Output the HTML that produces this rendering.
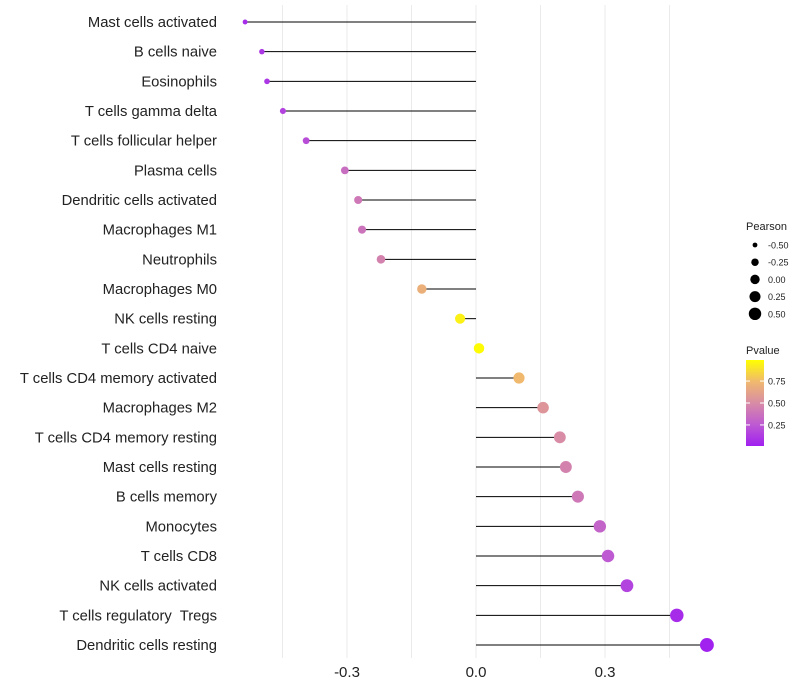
<!DOCTYPE html>
<html><head><meta charset="utf-8"><style>
body{margin:0;background:#fff;font-family:"Liberation Sans",sans-serif;}
svg{display:block}
text{white-space:pre}
</style></head><body>
<svg id="c" width="800" height="700"></svg>
<script>
const categories=["Mast cells activated","B cells naive","Eosinophils","T cells gamma delta","T cells follicular helper","Plasma cells","Dendritic cells activated","Macrophages M1","Neutrophils","Macrophages M0","NK cells resting","T cells CD4 naive","T cells CD4 memory activated","Macrophages M2","T cells CD4 memory resting","Mast cells resting","B cells memory","Monocytes","T cells CD8","NK cells activated","T cells regulatory  Tregs","Dendritic cells resting"];
const pearson=[-0.537,-0.498,-0.486,-0.449,-0.395,-0.305,-0.274,-0.265,-0.221,-0.126,-0.037,0.007,0.10,0.156,0.195,0.209,0.237,0.288,0.307,0.351,0.467,0.537];
const pvalues=[0.05,0.1,0.1,0.15,0.2,0.35,0.4,0.38,0.45,0.7,0.95,0.99,0.75,0.55,0.5,0.45,0.4,0.3,0.25,0.15,0.05,0.01];
const xTicks=[-0.3,0,0.3];
const xTickLabels=["-0.3","0.0","0.3"];
const gridVals=[-0.45,-0.3,-0.15,0,0.15,0.3,0.45];
const sizeLegend=[-0.5,-0.25,0,0.25,0.5];
const pLegend=[0.25,0.5,0.75];

const NS="http://www.w3.org/2000/svg";
const svg=document.getElementById('c');
function mk(t,a,p){const e=document.createElementNS(NS,t);for(const k in a)e.setAttribute(k,a[k]);(p||svg).appendChild(e);return e;}
const x=v=>476+v*430;
const y=i=>22+i*(623/(categories.length-1));
const stops=[[0,[160,32,240]],[0.25,[190,90,210]],[0.5,[216,140,165]],[0.75,[240,185,110]],[1,[255,255,0]]];
function col(p){for(let i=1;i<stops.length;i++){if(p<=stops[i][0]){const a=stops[i-1],b=stops[i];const t=(p-a[0])/(b[0]-a[0]);return 'rgb('+a[1].map((c,j)=>Math.round(c+(b[1][j]-c)*t)).join(',')+')';}}return 'rgb(255,255,0)';}
const rad=v=>Math.sqrt(Math.max(3,7.5+39.4*(v+0.498)));
const radLeg=v=>Math.sqrt(4.5+(v+0.54)/1.08*(40-4.5));

gridVals.forEach(g=>{const l=mk('line',{x1:x(g),x2:x(g),y1:5,y2:658,stroke:'#ebebeb','stroke-width':1});

});
xTicks.forEach((t,i)=>{const e=mk('text',{x:x(t),y:677,'text-anchor':'middle','font-size':15,fill:'#222'});e.textContent=xTickLabels[i];

});
categories.forEach((c,i)=>{
 const t=mk('text',{x:217,y:y(i)+5,'text-anchor':'end','font-size':14.8,fill:'#222'});t.textContent=c;
 
 
 const l=mk('line',{x1:x(0),x2:x(pearson[i]),y1:y(i),y2:y(i),stroke:'#000','stroke-width':1});
 
 
 const p=mk('circle',{cx:x(pearson[i]),cy:y(i),r:rad(pearson[i]),fill:col(pvalues[i])});
 
 
});
const lt=mk('text',{x:746,y:230,'font-size':11,fill:'#222'});lt.textContent='Pearson';


sizeLegend.forEach((v,i)=>{const cy=245+i*17.2;
 const c=mk('circle',{cx:755,cy:cy,r:radLeg(v),fill:'#000'});
 
 
 const t=mk('text',{x:768,y:cy+3.5,'font-size':9,fill:'#222'});t.textContent=v.toFixed(2);
 
 });
const pt=mk('text',{x:746,y:354,'font-size':11,fill:'#222'});pt.textContent='Pvalue';


const defs=mk('defs',{});const lg=mk('linearGradient',{id:'g',x1:0,y1:1,x2:0,y2:0},defs);
stops.forEach(s=>mk('stop',{offset:s[0],'stop-color':col(s[0])},lg));
const bar=mk('rect',{x:746,y:360,width:18,height:86,fill:'url(#g)'});


pLegend.forEach(v=>{const cy=446-(v-0.01)/0.98*86;
 mk('line',{x1:746,x2:750,y1:cy,y2:cy,stroke:'#fff'});mk('line',{x1:760,x2:764,y1:cy,y2:cy,stroke:'#fff'});
 const t=mk('text',{x:768,y:cy+3.5,'font-size':9,fill:'#222'});t.textContent=v.toFixed(2);
 
 });
</script>
</body></html>
